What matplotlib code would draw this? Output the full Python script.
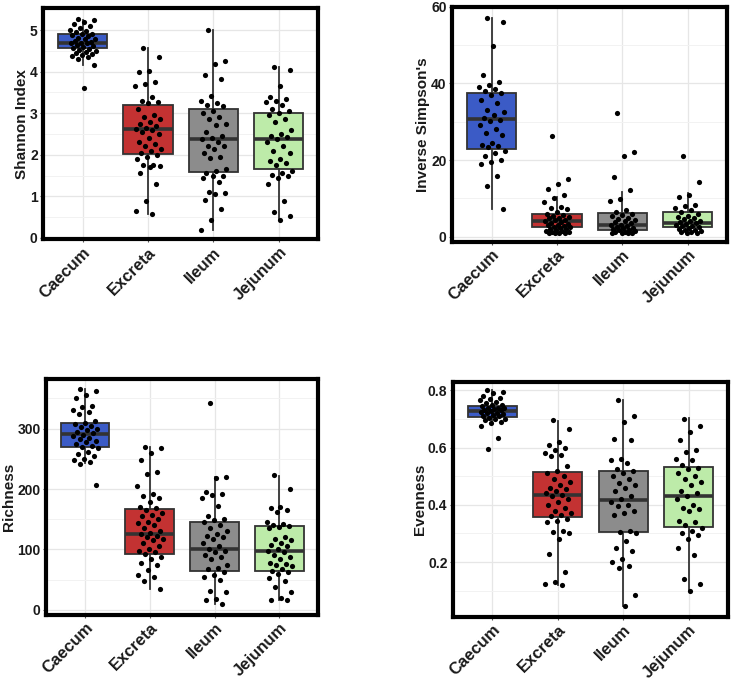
import numpy as np
import matplotlib
matplotlib.use("Agg")
import matplotlib.pyplot as plt
from matplotlib.ticker import MultipleLocator

plt.rcParams["font.family"] = ["Liberation Sans", "DejaVu Sans"]
plt.rcParams["font.weight"] = "bold"

groups = ["Caecum", "Excreta", "Ileum", "Jejunum"]
colors = ["#3B5BC6", "#C33232", "#8C8C8C", "#BDEBA9"]

# ---- Shannon index ----
shannon_caecum = [5.27, 5.24, 5.2, 5.15, 5.1, 5.05, 5.0, 4.98, 4.95, 4.92, 4.9, 4.88, 4.85,
                  4.82, 4.8, 4.78, 4.75, 4.72, 4.7, 4.7, 4.68, 4.65, 4.62, 4.6, 4.58, 4.55,
                  4.52, 4.5, 4.48, 4.45, 4.42, 4.4, 4.38, 4.35, 4.3, 4.15, 3.62]
shannon_excreta = [4.58, 4.35, 4.02, 4.0, 3.75, 3.7, 3.65, 3.4, 3.3, 3.28, 3.25, 3.1, 2.95,
                   2.92, 2.85, 2.8, 2.75, 2.7, 2.65, 2.62, 2.6, 2.55, 2.5, 2.4, 2.3, 2.25,
                   2.2, 2.15, 2.1, 2.05, 2.0, 1.95, 1.9, 1.75, 1.75, 1.72, 1.7, 1.55, 1.3,
                   0.88, 0.65, 0.58]
shannon_ileum = [5.0, 4.25, 4.18, 3.92, 3.82, 3.42, 3.3, 3.25, 3.2, 3.18, 3.05, 3.0, 2.9,
                 2.85, 2.75, 2.72, 2.55, 2.45, 2.4, 2.38, 2.3, 2.22, 2.2, 2.15, 2.05, 1.95,
                 1.92, 1.65, 1.6, 1.55, 1.5, 1.48, 1.45, 1.35, 1.1, 1.08, 1.05, 0.9, 0.7,
                 0.42, 0.2]
shannon_jejunum = [4.12, 4.05, 3.65, 3.4, 3.35, 3.3, 3.28, 3.2, 3.1, 3.05, 3.0, 2.95, 2.85,
                   2.8, 2.6, 2.5, 2.45, 2.42, 2.38, 2.3, 2.2, 2.1, 2.05, 1.9, 1.85, 1.8,
                   1.75, 1.6, 1.55, 1.52, 1.5, 1.45, 1.3, 0.88, 0.62, 0.52, 0.43]
# box stats: whisker low, q1, median, q3, whisker high
shannon_box = [(4.15, 4.58, 4.68, 4.9, 5.25), (0.58, 2.03, 2.62, 3.2, 4.58),
               (0.18, 1.58, 2.37, 3.1, 5.0), (0.43, 1.65, 2.38, 3.0, 4.12)]

# ---- Inverse Simpson ----
invs_caecum = [57.2, 56.0, 49.7, 42.3, 40.5, 39.5, 39.0, 38.5, 38.0, 37.5, 37.0, 35.8, 34.8,
               33.2, 32.5, 31.8, 31.0, 30.5, 30.2, 29.2, 28.0, 27.2, 26.5, 24.5, 24.0, 23.8,
               23.5, 22.5, 21.8, 21.2, 20.0, 19.5, 18.9, 15.8, 13.2, 7.2]
invs_excreta = [26.3, 15.0, 13.7, 12.6, 10.8, 10.2, 9.0, 7.8, 7.5, 7.2, 6.5, 6.0, 5.8, 5.5,
                5.2, 5.0, 4.8, 4.5, 4.3, 4.0, 3.8, 3.6, 3.4, 3.2, 3.0, 2.8, 2.6, 2.5, 2.3,
                2.1, 2.0, 1.8, 1.6, 1.5, 1.3, 1.2, 1.1, 1.0, 1.0, 0.9]
invs_ileum = [32.2, 22.0, 21.0, 15.7, 12.1, 9.8, 9.3, 7.0, 6.5, 6.0, 5.7, 5.4, 5.0, 4.6,
              4.3, 4.0, 3.8, 3.5, 3.2, 3.0, 2.8, 2.6, 2.4, 2.2, 2.0, 1.9, 1.7, 1.5, 1.3,
              1.2, 1.1, 1.0, 1.0, 0.9]
invs_jejunum = [21.1, 14.2, 11.0, 10.5, 8.3, 8.0, 7.5, 7.0, 6.5, 6.0, 5.5, 5.2, 5.0, 4.6,
                4.2, 4.0, 3.8, 3.5, 3.3, 3.1, 2.9, 2.7, 2.5, 2.3, 2.1, 1.9, 1.7, 1.5, 1.3,
                1.2, 1.0, 0.9]
invs_box = [(7.3, 23.0, 30.8, 37.5, 57.2), (0.9, 2.6, 4.0, 6.0, 10.5),
            (0.9, 1.9, 3.0, 6.2, 11.8), (0.9, 2.6, 3.5, 6.4, 11.5)]

# ---- Richness ----
rich_caecum = [365, 362, 355, 350, 338, 335, 330, 328, 325, 312, 310, 308, 305, 302, 300,
               298, 295, 292, 290, 288, 285, 282, 280, 278, 275, 272, 270, 268, 262, 258,
               255, 250, 248, 245, 242, 206]
rich_excreta = [270, 268, 260, 248, 228, 225, 205, 192, 188, 185, 178, 170, 168, 165, 160,
                157, 155, 150, 145, 144, 140, 135, 130, 128, 125, 122, 120, 118, 115, 110,
                105, 100, 98, 95, 92, 88, 85, 78, 75, 66, 58, 55, 48, 35]
rich_ileum = [343, 220, 218, 195, 192, 190, 185, 172, 155, 150, 148, 145, 140, 135, 130,
              125, 122, 120, 118, 110, 105, 100, 98, 95, 90, 88, 85, 75, 70, 68, 62, 58,
              55, 50, 32, 30, 18, 17, 9]
rich_jejunum = [223, 200, 170, 168, 165, 162, 145, 142, 140, 138, 137, 135, 120, 117, 115,
                110, 108, 105, 100, 98, 95, 90, 88, 85, 78, 76, 75, 72, 68, 65, 62, 60, 52,
                48, 38, 30, 20, 17, 16]
rich_box = [(243, 269, 291, 309, 365), (35, 93, 126, 167, 270),
            (9, 64, 101, 146, 220), (16, 65, 98, 139, 222)]

# ---- Evenness ----
even_caecum = [0.80, 0.795, 0.79, 0.78, 0.775, 0.77, 0.765, 0.76, 0.755, 0.75, 0.748, 0.745,
               0.74, 0.74, 0.738, 0.735, 0.73, 0.73, 0.728, 0.725, 0.72, 0.72, 0.718, 0.715,
               0.71, 0.71, 0.705, 0.70, 0.70, 0.695, 0.69, 0.685, 0.675, 0.635, 0.595]
even_excreta = [0.695, 0.665, 0.62, 0.61, 0.60, 0.59, 0.58, 0.575, 0.57, 0.535, 0.52, 0.51,
                0.50, 0.49, 0.48, 0.47, 0.46, 0.455, 0.45, 0.44, 0.435, 0.43, 0.42, 0.41,
                0.40, 0.39, 0.38, 0.37, 0.365, 0.36, 0.35, 0.345, 0.34, 0.31, 0.305, 0.30,
                0.28, 0.23, 0.165, 0.13, 0.125, 0.12]
even_ileum = [0.767, 0.71, 0.69, 0.63, 0.625, 0.56, 0.555, 0.545, 0.525, 0.52, 0.51, 0.50,
              0.49, 0.475, 0.47, 0.46, 0.45, 0.43, 0.42, 0.41, 0.40, 0.395, 0.38, 0.37,
              0.365, 0.31, 0.305, 0.30, 0.275, 0.25, 0.24, 0.21, 0.20, 0.185, 0.18, 0.085,
              0.046]
even_jejunum = [0.70, 0.675, 0.655, 0.625, 0.59, 0.585, 0.56, 0.555, 0.54, 0.53, 0.525,
                0.51, 0.50, 0.49, 0.48, 0.47, 0.45, 0.44, 0.43, 0.42, 0.40, 0.39, 0.385,
                0.38, 0.345, 0.34, 0.33, 0.32, 0.31, 0.30, 0.295, 0.28, 0.25, 0.225, 0.14,
                0.125, 0.10]
even_box = [(0.685, 0.708, 0.728, 0.746, 0.80), (0.12, 0.357, 0.435, 0.514, 0.694),
            (0.046, 0.304, 0.418, 0.52, 0.767), (0.10, 0.323, 0.432, 0.531, 0.702)]

panels = [
    ("Shannon Index", [shannon_caecum, shannon_excreta, shannon_ileum, shannon_jejunum],
     shannon_box, (-0.03, 5.53), 1, 0.5, [0.059, 0.650, 0.375, 0.338]),
    ("Inverse Simpson's", [invs_caecum, invs_excreta, invs_ileum, invs_jejunum],
     invs_box, (-1.3, 60.0), 20, 10, [0.617, 0.646, 0.375, 0.344]),
    ("Richness", [rich_caecum, rich_excreta, rich_ileum, rich_jejunum],
     rich_box, (-8, 382), 100, 50, [0.063, 0.100, 0.371, 0.345]),
    ("Evenness", [even_caecum, even_excreta, even_ileum, even_jejunum],
     even_box, (0.009, 0.83), 0.2, 0.1, [0.618, 0.097, 0.375, 0.344]),
]


def jitter(n, width=0.4):
    # deterministic spread, like geom_jitter
    k = np.arange(n)
    return ((k * 0.618034 + 0.31) % 1.0 - 0.5) * width


fig = plt.figure(figsize=(7.33, 6.83), dpi=100)

for label, values, boxes, ylim, major, minor, rect in panels:
    ax = fig.add_axes(rect)
    stats = []
    for (lo, q1, med, q3, hi) in boxes:
        stats.append({"whislo": lo, "q1": q1, "med": med, "q3": q3, "whishi": hi,
                      "fliers": []})
    bp = ax.bxp(stats, positions=[1, 2, 3, 4], widths=0.75, patch_artist=True,
                showcaps=False, showfliers=False,
                boxprops=dict(edgecolor="#333333", linewidth=1.3),
                whiskerprops=dict(color="#333333", linewidth=1.3),
                medianprops=dict(color="#333333", linewidth=2.6))
    for patch, c in zip(bp["boxes"], colors):
        patch.set_facecolor(c)
    for i, v in enumerate(values):
        x = i + 1 + jitter(len(v))
        ax.scatter(x, v, s=14, color="black", zorder=4, linewidths=0)

    ax.set_xlim(0.4, 4.6)
    ax.set_ylim(*ylim)
    ax.yaxis.set_major_locator(MultipleLocator(major))
    ax.yaxis.set_minor_locator(MultipleLocator(minor))
    ax.grid(True, which="major", color="#E6E6E6", linewidth=0.9, zorder=0)
    ax.grid(True, which="minor", axis="y", color="#F2F2F2", linewidth=0.7, zorder=0)
    ax.set_axisbelow(True)
    ax.set_xticks([1, 2, 3, 4])
    ax.set_xticklabels(groups, rotation=45, ha="right", rotation_mode="anchor",
                       fontsize=12, fontweight="bold", color="#1a1a1a")
    ax.tick_params(axis="y", which="major", labelsize=10, length=2, color="#555555",
                   labelcolor="#1a1a1a", pad=2)
    ax.tick_params(axis="y", which="minor", length=0)
    ax.tick_params(axis="x", length=2, color="#555555", pad=2)
    for lab in ax.get_yticklabels():
        lab.set_fontweight("bold")
    ax.set_ylabel(label, fontsize=11, fontweight="bold", color="#1a1a1a", labelpad=1)
    for sp in ax.spines.values():
        sp.set_linewidth(3)
        sp.set_color("black")
        sp.set_zorder(6)

fig.savefig("out.png", dpi=100)
